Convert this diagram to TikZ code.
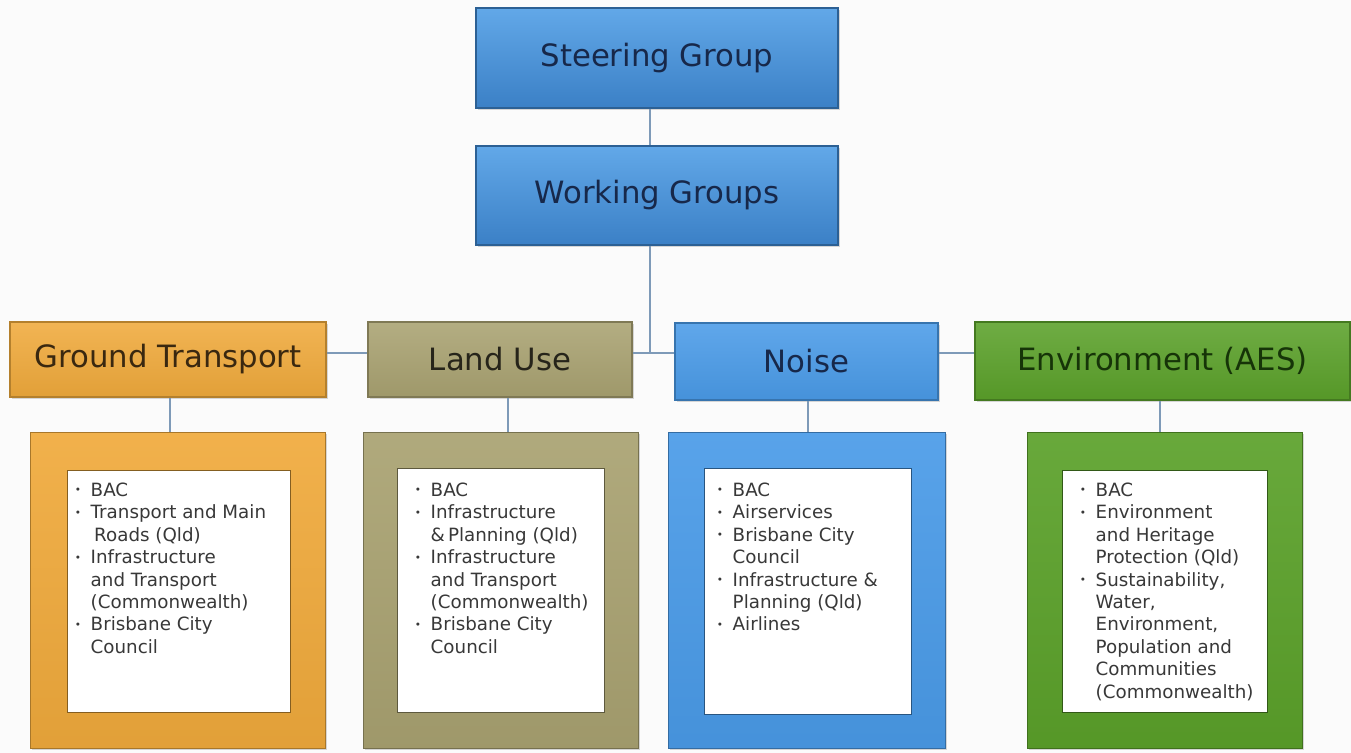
\documentclass[tikz,border=0pt]{standalone}
\usepackage{fontspec}
\setmainfont{DejaVu Sans}
\usetikzlibrary{shadows}

\definecolor{pagebg}{HTML}{FBFBFB}
\definecolor{linkc}{HTML}{7E9AB8}
\definecolor{bluetop}{HTML}{62A8E8}
\definecolor{bluebot}{HTML}{3B80C6}
\definecolor{noiseblue}{HTML}{4A9BE8}
\definecolor{orangec}{HTML}{F0AA3C}
\definecolor{olivec}{HTML}{A9A271}
\definecolor{greenc}{HTML}{5BA12A}
\definecolor{navytxt}{HTML}{17284A}
\definecolor{browntxt}{HTML}{3A2810}
\definecolor{olivetxt}{HTML}{26241A}
\definecolor{greentxt}{HTML}{163408}
\definecolor{listtxt}{HTML}{383838}

\newcommand{\px}{0.02cm}
\newcommand{\itemdot}{\makebox[9pt][l]{\raisebox{0.25ex}{\fontsize{6}{6}\selectfont •}}}
\newcommand{\itemcont}{\hspace*{9pt}}

\begin{document}
\begin{tikzpicture}[x=0.02cm,y=-0.02cm,
  header/.style={rectangle, inner sep=0pt, draw=#1!75!black, line width=0.6pt,
    font=\fontsize{17.5}{20}\selectfont,
    drop shadow={opacity=0.3, shadow xshift=1.2pt, shadow yshift=-1.2pt}},
  bluehead/.style={header=bluebot, top color=bluetop, bottom color=bluebot, text=navytxt},
  flathead/.style={header=#1, top color=#1!88!white, bottom color=#1!94!black},
  framebox/.style={rectangle, inner sep=0pt, draw=#1!70!black, line width=0.5pt,
    top color=#1!92!white, bottom color=#1!94!black,
    drop shadow={opacity=0.3, shadow xshift=1.2pt, shadow yshift=-1.2pt}},
  innerbox/.style={rectangle, inner sep=0pt, fill=white, draw=#1!55!black, line width=0.5pt},
  listtext/.style={anchor=north west, inner sep=0pt, align=left, text=listtxt,
    font=\fontsize{10.4}{12.75}\selectfont},
  conn/.style={draw=linkc, line width=1pt}
]
% page
\fill[pagebg] (0,0) rectangle (1351,753);
\useasboundingbox (0,0) rectangle (1351,753);

% top of the hierarchy
\node[bluehead, minimum width=362*\px, minimum height=100*\px] (sg) at (657,58) {Steering Group};
\node[bluehead, minimum width=362*\px, minimum height=99*\px] (wg) at (657,195.5) {Working Groups};

% group headers
\node[flathead=orangec, text=browntxt, minimum width=316*\px, minimum height=75*\px] (gt) at (168,359.5) {Ground Transport};
\node[flathead=olivec, text=olivetxt, minimum width=264*\px, minimum height=75*\px] (lu) at (500,359.5) {Land Use};
\node[flathead=noiseblue, text=navytxt, minimum width=263*\px, minimum height=77*\px] (noise) at (806.5,361.5) {Noise};
\node[flathead=greenc, text=greentxt, minimum width=375*\px, minimum height=78*\px] (env) at (1162.5,361) {Environment (AES)};

% member frames
\node[framebox=orangec, minimum width=295*\px, minimum height=316*\px] (gtf) at (177.5,590) {};
\node[innerbox=orangec, minimum width=223*\px, minimum height=242*\px] (gtin) at (178.5,591) {};
\node[framebox=olivec, minimum width=275*\px, minimum height=316*\px] (luf) at (500.5,590) {};
\node[innerbox=olivec, minimum width=207*\px, minimum height=244*\px] (luin) at (500.5,590) {};
\node[framebox=noiseblue, minimum width=277*\px, minimum height=316*\px] (noisef) at (806.5,590) {};
\node[innerbox=noiseblue, minimum width=207*\px, minimum height=246*\px] (noisein) at (807.5,591) {};
\node[framebox=greenc, minimum width=275*\px, minimum height=316*\px] (envf) at (1164.5,590) {};
\node[innerbox=greenc, minimum width=205*\px, minimum height=242*\px] (envin) at (1164.5,591) {};

% member lists
\node[listtext] (gtl) at ([shift={(8,13)}]gtin.north west) {%
\itemdot BAC\\
\itemdot Transport and Main\\
\itemcont\hspace*{2pt}Roads (Qld)\\
\itemdot Infrastructure\\
\itemcont and Transport\\
\itemcont (Commonwealth)\\
\itemdot Brisbane City\\
\itemcont Council};
\node[listtext] (lul) at ([shift={(18,15)}]luin.north west) {%
\itemdot BAC\\
\itemdot Infrastructure\\
\itemcont \&\,Planning (Qld)\\
\itemdot Infrastructure\\
\itemcont and Transport\\
\itemcont (Commonwealth)\\
\itemdot Brisbane City\\
\itemcont Council};
\node[listtext] (noisel) at ([shift={(13,15)}]noisein.north west) {%
\itemdot BAC\\
\itemdot Airservices\\
\itemdot Brisbane City\\
\itemcont Council\\
\itemdot Infrastructure \&\\
\itemcont Planning (Qld)\\
\itemdot Airlines};
\node[listtext] (envl) at ([shift={(18,13)}]envin.north west) {%
\itemdot BAC\\
\itemdot Environment\\
\itemcont and Heritage\\
\itemcont Protection (Qld)\\
\itemdot Sustainability,\\
\itemcont Water,\\
\itemcont Environment,\\
\itemcont Population and\\
\itemcont Communities\\
\itemcont (Commonwealth)};

% connectors
\coordinate (hub) at (650,353);
\draw[conn] (sg.south -| hub) -- (wg.north -| hub);
\draw[conn] (wg.south -| hub) -- (hub);
\draw[conn] (gt.east |- hub) -- (lu.west |- hub);
\draw[conn] (lu.east |- hub) -- (noise.west |- hub);
\draw[conn] (noise.east |- hub) -- (env.west |- hub);
\draw[conn] ([xshift=2*\px]gt.south) -- ([xshift=2*\px]gt.south |- gtf.north);
\draw[conn] ([xshift=8*\px]lu.south) -- ([xshift=8*\px]lu.south |- luf.north);
\draw[conn] ([xshift=1.5*\px]noise.south) -- ([xshift=1.5*\px]noise.south |- noisef.north);
\draw[conn] ([xshift=-2.5*\px]env.south) -- ([xshift=-2.5*\px]env.south |- envf.north);
\end{tikzpicture}
\end{document}
